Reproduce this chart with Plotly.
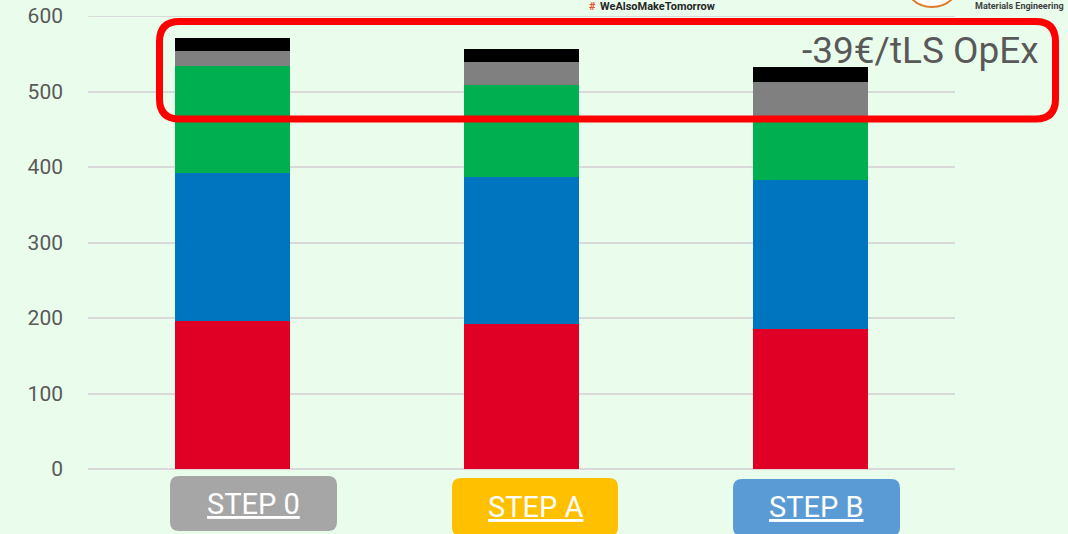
import plotly.graph_objects as go

# Stacked cost components per step (€/t liquid steel)
steps = ["STEP 0", "STEP A", "STEP B"]
red_part = [196, 192, 186]
blue_part = [196, 195, 197]
green_part = [142, 122, 83]
gray_part = [20, 30, 46]
black_part = [17, 17, 20]
y_ticks = [0, 100, 200, 300, 400, 500, 600]

delta_label = "-39€/tLS OpEx"
header_tag = "WeAlsoMakeTomorrow"
header_org = "Materials Engineering"

W, H = 1068, 534
L, R, T, B = 88, 955, 16, 469
BG = "#eafded"
FONT = "Roboto"
GRID = "#d9d9d9"


def px_x(px):
    return (px - L) / (R - L)


def px_y(py):
    return (B - py) / (B - T)


def rounded_rect(x0, y0, x1, y1, r):
    # pixel-space rounded rectangle converted to paper coordinates
    pts = [
        ("M", (x0 + r, y0)),
        ("L", (x1 - r, y0)),
        ("Q", (x1, y0), (x1, y0 + r)),
        ("L", (x1, y1 - r)),
        ("Q", (x1, y1), (x1 - r, y1)),
        ("L", (x0 + r, y1)),
        ("Q", (x0, y1), (x0, y1 - r)),
        ("L", (x0, y0 + r)),
        ("Q", (x0, y0), (x0 + r, y0)),
    ]
    out = []
    for cmd, *ps in pts:
        out.append(cmd + " " + " ".join(f"{px_x(a):.5f},{px_y(b):.5f}" for a, b in ps))
    return " ".join(out) + " Z"


fig = go.Figure()
segments = [
    (red_part, "#e00025"),
    (blue_part, "#0075bf"),
    (green_part, "#00b050"),
    (gray_part, "#808080"),
    (black_part, "#000000"),
]
for i, (vals, col) in enumerate(segments):
    fig.add_trace(go.Bar(
        x=steps, y=vals, name=f"part {i + 1}",
        marker=dict(color=col, line=dict(width=0)),
        showlegend=False, hoverinfo="y",
    ))

shapes = []
annotations = []

# top gridline at the range edge
shapes.append(dict(
    type="line", xref="paper", yref="y", x0=0, x1=1, y0=y_ticks[-1], y1=y_ticks[-1],
    line=dict(color=GRID, width=2), layer="below",
))

# highlight frame around the top segments
shapes.append(dict(
    type="path", xref="paper", yref="paper",
    path=rounded_rect(159.5, 21.5, 1055.5, 119, 20),
    line=dict(color="#ff0000", width=7), fillcolor="rgba(0,0,0,0)",
    layer="above",
))
annotations.append(dict(
    xref="paper", yref="paper", x=px_x(1041), y=px_y(50),
    xanchor="right", yanchor="middle", showarrow=False,
    text=delta_label, font=dict(family=FONT, size=37, color="#595959"),
))

# step buttons under each bar
buttons = [
    ("STEP 0", (170, 476, 337, 531), "#a6a6a6", 504),
    ("STEP A", (452, 478, 618, 536), "#ffc000", 507),
    ("STEP B", (733, 479, 900, 536), "#5b9bd5", 507),
]
for label, (x0, y0, x1, y1), col, ty in buttons:
    shapes.append(dict(
        type="path", xref="paper", yref="paper",
        path=rounded_rect(x0, y0, x1, y1, 9),
        line=dict(width=0), fillcolor=col,
    ))
    annotations.append(dict(
        xref="paper", yref="paper", x=px_x((x0 + x1) / 2), y=px_y(ty),
        xanchor="center", yanchor="middle", showarrow=False,
        text=f"<u>{label}</u>", font=dict(family=FONT, size=29, color="white"),
    ))

# header strip along the top edge
annotations.append(dict(
    xref="paper", yref="paper", x=px_x(598), y=px_y(6),
    xanchor="left", yanchor="middle", showarrow=False,
    text=f"<b>{header_tag}</b>",
    font=dict(family=FONT, size=11, color="#262626"),
))
annotations.append(dict(
    xref="paper", yref="paper", x=px_x(587), y=px_y(6),
    xanchor="left", yanchor="middle", showarrow=False,
    text="<b>#</b>", font=dict(family=FONT, size=11, color="#e8502a"),
))
shapes.append(dict(
    type="circle", xref="paper", yref="paper",
    x0=px_x(903), x1=px_x(961), y0=px_y(-50), y1=px_y(7),
    line=dict(color="#e07b28", width=2), fillcolor="#ffffff",
))
annotations.append(dict(
    xref="paper", yref="paper", x=px_x(1066), y=px_y(6),
    xanchor="right", yanchor="middle", showarrow=False,
    text=f"<b>{header_org}</b>", font=dict(family=FONT, size=9, color="#404040"),
))

fig.update_layout(
    width=W, height=H,
    margin=dict(l=L, r=W - R, t=T, b=H - B, pad=0, autoexpand=False),
    paper_bgcolor=BG, plot_bgcolor=BG,
    barmode="stack", bargap=0.6,
    shapes=shapes, annotations=annotations,
    xaxis=dict(
        categoryorder="array", categoryarray=steps, range=[-0.5, 2.5],
        showticklabels=False, showgrid=False, zeroline=False, showline=False, ticks="",
        automargin=False,
    ),
    yaxis=dict(
        range=[0, 600], tickvals=y_ticks, showgrid=True, automargin=False,
        gridcolor=GRID, gridwidth=2, zeroline=True, zerolinecolor=GRID,
        zerolinewidth=2, showline=False, ticks="", ticklabelstandoff=24,
        tickfont=dict(family=FONT, size=21, color="#595959"),
    ),
)

fig.write_html("out.html")
